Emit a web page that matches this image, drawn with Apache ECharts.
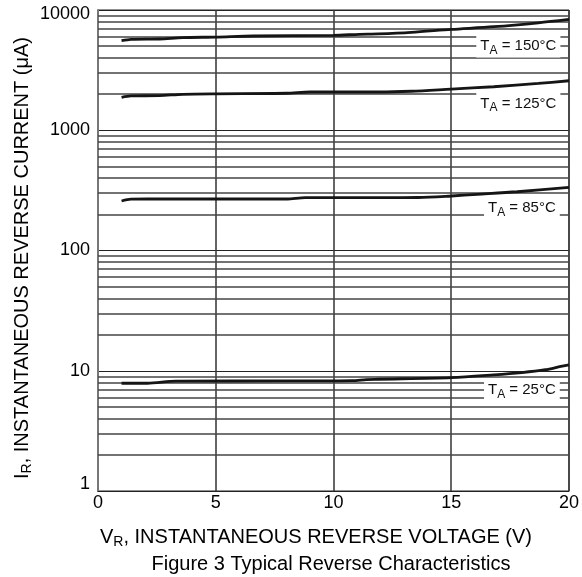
<!DOCTYPE html>
<html>
<head>
<meta charset="utf-8">
<script src="https://cdn.jsdelivr.net/npm/echarts@6/dist/echarts.min.js"></script>
<style>html,body{margin:0;padding:0;background:#fff}#c{width:582px;height:577px}</style>
</head>
<body>
<div id="c"></div>
<script>
// ---- data ----
const v150 = [1, 1.4, 2.6, 3.6, 5, 6.6, 10, 11.1, 11.9, 13.3, 15, 16.8, 18.7, 20];
const i150 = [5560, 5700, 5740, 5890, 5960, 6080, 6160, 6280, 6330, 6520, 6900, 7260, 7830, 8360];

const v125 = [1, 1.4, 2.6, 3.6, 5, 8, 9, 11.9, 13.3, 15, 16.8, 18.7, 20];
const i125 = [1880, 1930, 1940, 1990, 2010, 2030, 2080, 2080, 2110, 2200, 2300, 2450, 2580];

const v85 = [1, 1.4, 2.1, 8, 8.8, 11.9, 13.6, 15, 16.1, 17.8, 20];
const i85 = [258, 267, 268, 268, 275, 275, 276, 284, 293, 308, 335];

const v25 = [1, 2.1, 3.3, 8, 10.8, 11.4, 11.9, 15, 16.8, 18, 19, 19.6, 20];
const i25 = [7.87, 7.87, 8.2, 8.23, 8.28, 8.45, 8.5, 8.77, 9.24, 9.66, 10.2, 10.8, 11.2];

const seriesNames = ['150°C', '125°C', '85°C', '25°C'];
const xTicks = [0, 5, 10, 15, 20];
const yTicks = [1, 10, 100, 1000, 10000];
const minorGrid = [2, 3, 4, 5, 6, 7, 8, 9, 20, 30, 40, 50, 60, 70, 80, 90,
  200, 300, 400, 500, 600, 700, 800, 900, 2000, 3000, 4000, 5000, 6000, 7000, 8000, 9000];
// label anchors (data space)
const labelV = [17.85, 17.85, 18.0, 18.0];
const labelI = [5020, 1670, 226, 6.93];

// ---- build ----
const FONT = '"Liberation Sans", Arial, sans-serif';
const zip = (a, b) => a.map((x, k) => [x, b[k]]);
const curves = [zip(v150, i150), zip(v125, i125), zip(v85, i85), zip(v25, i25)];

const chart = echarts.init(document.getElementById('c'), null, {renderer: 'canvas'});

const series = [];
series.push({
  type: 'line', data: [], silent: true, z: 1,
  markLine: {
    silent: true, symbol: ['none', 'none'], animation: false,
    label: {show: false},
    lineStyle: {type: 'solid', color: '#444', width: 1.5},
    data: minorGrid.map(v => ({yAxis: v}))
  }
});
curves.forEach((d, k) => {
  series.push({
    type: 'line', name: seriesNames[k], data: d, smooth: 0.3,
    showSymbol: false, symbol: 'none', z: 5,
    lineStyle: {color: '#151515', width: 2.8},
    markPoint: {
      silent: true, animation: false,
      symbol: 'rect', symbolSize: [1, 1],
      itemStyle: {color: 'rgba(0,0,0,0)'},
      label: {
        show: true, position: 'inside',
        backgroundColor: '#fff', padding: [2, 4, 2, 4],
        formatter: '{t|T}{s|A}{t| = ' + seriesNames[k] + '}',
        rich: {
          t: {fontFamily: FONT, fontSize: 15, color: '#111', lineHeight: 19},
          s: {fontFamily: FONT, fontSize: 12, color: '#111', padding: [9, 0, 0, 0], lineHeight: 19}
        }
      },
      data: [{coord: [labelV[k], labelI[k]]}]
    }
  });
});

chart.setOption({
  animation: false,
  backgroundColor: '#fff',
  grid: {left: 98, right: 10, top: 10, bottom: 86, show: true, borderColor: '#222', borderWidth: 1},
  xAxis: {
    type: 'value', min: xTicks[0], max: xTicks[xTicks.length - 1], interval: 5,
    axisLine: {show: true, lineStyle: {color: '#222', width: 1}},
    axisTick: {show: false},
    axisLabel: {fontFamily: FONT, fontSize: 18, color: '#000', margin: 3,
      formatter: v => xTicks.includes(v) ? String(v) : ''},
    splitLine: {show: true, lineStyle: {color: '#333', width: 1.5}}
  },
  yAxis: {
    type: 'log', logBase: 10, min: yTicks[0], max: yTicks[yTicks.length - 1],
    axisLine: {show: true, lineStyle: {color: '#777', width: 2}},
    axisTick: {show: false},
    axisLabel: {fontFamily: FONT, fontSize: 18, color: '#000', margin: 8,
      formatter: v => v === 1 ? '{lo|1}' : (v === 10000 ? '{hi|10000}' : String(v)),
      rich: {
        lo: {fontFamily: FONT, fontSize: 18, color: '#000', padding: [0, 0, 14, 0]},
        hi: {fontFamily: FONT, fontSize: 18, color: '#000', padding: [8, 0, 0, 0]}
      }
    },
    splitLine: {show: true, lineStyle: {color: '#222', width: 1.2}}
  },
  graphic: [
    {
      type: 'text', x: 100, y: 537, silent: true,
      style: {
        text: '{n|V}{s|R}{n|, INSTANTANEOUS REVERSE VOLTAGE (V)}',
        align: 'left', verticalAlign: 'middle',
        rich: {
          n: {fontFamily: FONT, fontSize: 20, fill: '#000', lineHeight: 24},
          s: {fontFamily: FONT, fontSize: 14, fill: '#000', padding: [10, 0, 0, 0], lineHeight: 24}
        }
      }
    },
    {
      type: 'text', x: 331, y: 564, silent: true,
      style: {text: 'Figure 3 Typical Reverse Characteristics', font: '20px ' + FONT, fill: '#000',
        align: 'center', verticalAlign: 'middle'}
    },
    {
      type: 'text', x: 22, y: 258, rotation: Math.PI / 2, silent: true,
      style: {
        text: '{n|I}{s|R}{n|, INSTANTANEOUS REVERSE CURRENT (μA)}',
        align: 'center', verticalAlign: 'middle',
        rich: {
          n: {fontFamily: FONT, fontSize: 20, fill: '#000', lineHeight: 24},
          s: {fontFamily: FONT, fontSize: 14, fill: '#000', padding: [10, 0, 0, 0], lineHeight: 24}
        }
      }
    }
  ],
  series: series
});
</script>
</body>
</html>
